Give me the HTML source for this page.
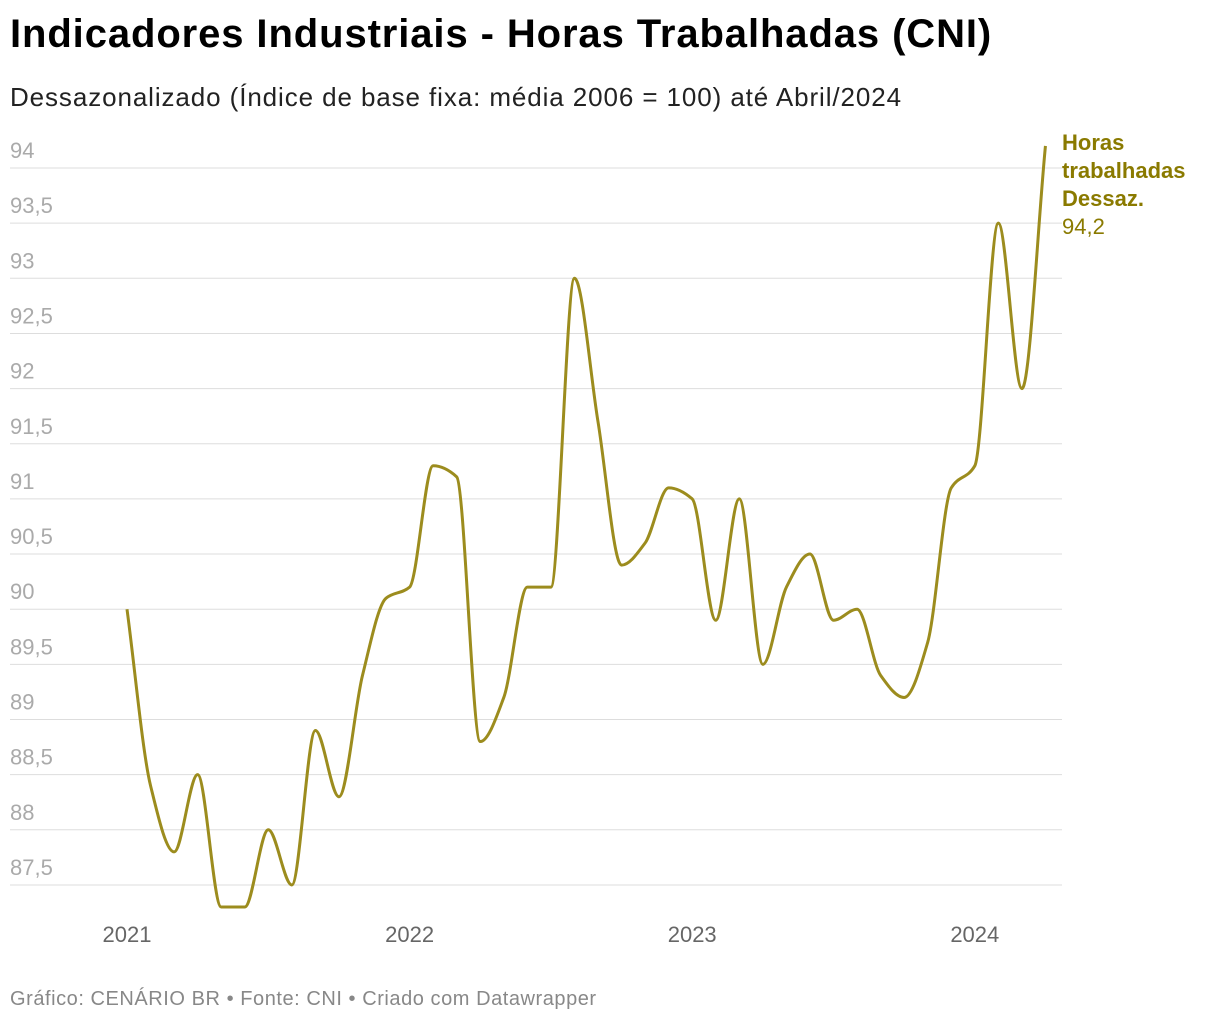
<!DOCTYPE html>
<html><head><meta charset="utf-8"><style>
body{margin:0;background:#fff;font-family:"Liberation Sans",Arial,sans-serif;}
#wrap{position:relative;width:1220px;height:1024px;overflow:hidden}
</style></head><body>
<div id="wrap">
<div style="position:absolute;left:10px;top:12px;font-size:40px;font-weight:bold;color:#000;letter-spacing:0.9px">Indicadores Industriais - Horas Trabalhadas (CNI)</div>
<div style="position:absolute;left:10px;top:82px;font-size:26px;color:#222;letter-spacing:0.9px">Dessazonalizado (Índice de base fixa: média 2006 = 100) até Abril/2024</div>
<svg id="chart" width="1220" height="1024" style="position:absolute;left:0;top:0"></svg>
<div style="position:absolute;left:10px;top:988px;font-size:20px;color:#888;letter-spacing:0.55px">Gráfico: CENÁRIO BR • Fonte: CNI • Criado com Datawrapper</div>
</div>
<script>
const values=[90.0,88.4,87.8,88.5,87.3,87.3,88.0,87.5,88.9,88.3,89.4,90.1,
90.2,91.3,91.2,88.8,89.2,90.2,90.2,93.0,91.7,90.4,90.6,91.1,
91.0,89.9,91.0,89.5,90.2,90.5,89.9,90.0,89.4,89.2,89.7,91.1,
91.3,93.5,92.0,94.2];
const yTicks=[94,93.5,93,92.5,92,91.5,91,90.5,90,89.5,89,88.5,88,87.5];
const xYears=[2021,2022,2023,2024];
const seriesName=["Horas","trabalhadas","Dessaz."];
const NS="http://www.w3.org/2000/svg";
const svg=document.getElementById('chart');
const x0=127,dx=23.55;
function xScale(i){return x0+i*dx;}
function yScale(v){return 168+(94-v)*110.3;}
function mk(t,a){const e=document.createElementNS(NS,t);for(const k in a)e.setAttribute(k,a[k]);svg.appendChild(e);return e;}
yTicks.forEach(t=>{
 const l=mk('line',{x1:10,x2:1062,y1:yScale(t),y2:yScale(t),stroke:'#ddd','stroke-width':1});
 
 
 const tx=mk('text',{x:10,y:yScale(t)-10,'font-size':22,fill:'#aaa','font-family':'Liberation Sans, sans-serif'});
 tx.textContent=String(t).replace('.',',');
 
 
});
xYears.forEach(y=>{
 const i=(y-2021)*12;
 const tx=mk('text',{x:xScale(i),y:942,'font-size':22,fill:'#666','text-anchor':'middle','font-family':'Liberation Sans, sans-serif'});
 tx.textContent=y;
 
 
});
const pts=values.map((v,i)=>[xScale(i),yScale(v)]);
const n=pts.length,m=[],d=[];
for(let i=0;i<n-1;i++)d.push((pts[i+1][1]-pts[i][1])/(pts[i+1][0]-pts[i][0]));
for(let i=0;i<n;i++){
 if(i==0)m.push(d[0]);else if(i==n-1)m.push(d[n-2]);
 else{ if(d[i-1]*d[i]<=0)m.push(0);else{m.push(3*d[i-1]*d[i]/(((2*d[i]+d[i-1])+(d[i]+2*d[i-1]))/2));} }
}
let p='M'+pts[0][0]+','+pts[0][1];
for(let i=0;i<n-1;i++){const h=pts[i+1][0]-pts[i][0];
 p+=' C'+(pts[i][0]+h/3)+','+(pts[i][1]+m[i]*h/3)+' '+(pts[i+1][0]-h/3)+','+(pts[i+1][1]-m[i+1]*h/3)+' '+pts[i+1][0]+','+pts[i+1][1];}
const path=mk('path',{d:p,fill:'none',stroke:'#9c8c1e','stroke-width':3,'stroke-linejoin':'round'});


const lx=1062,ly=yScale(values[n-1])-10;
seriesName.forEach((s,k)=>{
 const t=mk('text',{x:lx,y:ly+14+k*28,'font-size':22,'font-weight':'bold',fill:'#8a7a00','font-family':'Liberation Sans, sans-serif'});
 t.textContent=s;
 
 
});
const vt=mk('text',{x:lx,y:ly+14+3*28,'font-size':22,fill:'#8a7a00','font-family':'Liberation Sans, sans-serif'});
vt.textContent=String(values[n-1]).replace('.',',');


</script>
</body></html>
